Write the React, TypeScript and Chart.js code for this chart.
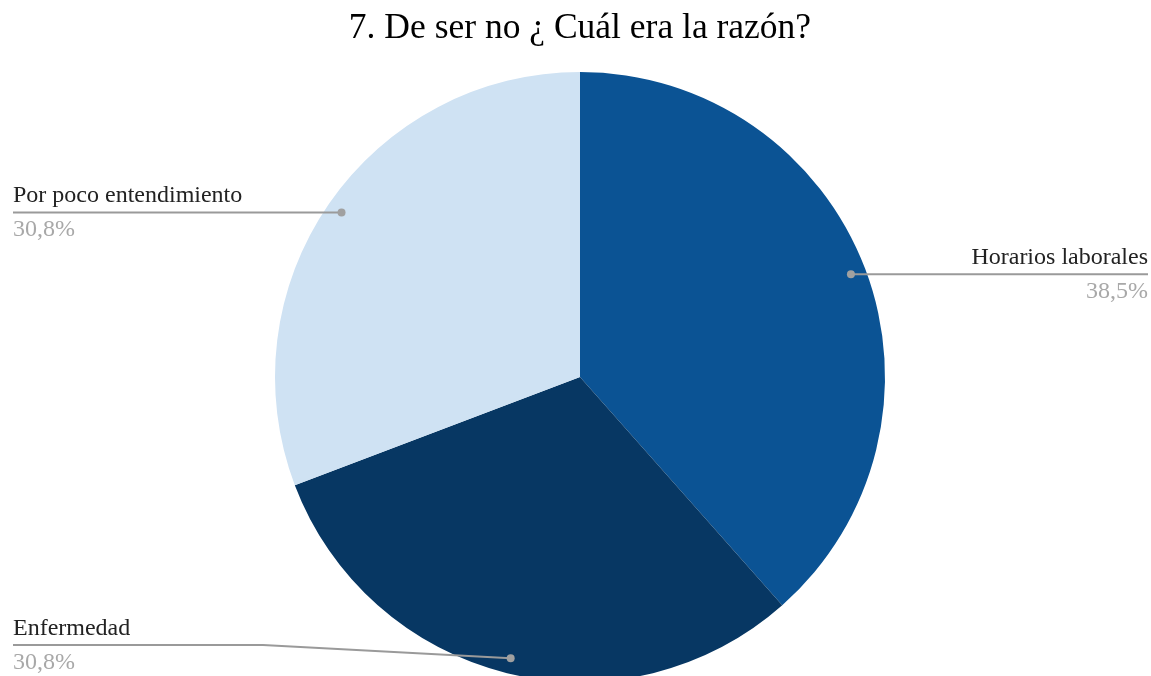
import React, { useEffect, useRef } from "react";
import { Chart, registerables } from "chart.js";

Chart.register(...registerables);

const TITLE = "7. De ser no ¿ Cuál era la razón?";
const CATEGORIES = ["Horarios laborales", "Enfermedad", "Por poco entendimiento"];
const VALUES = [5, 4, 4];
const COLORS = ["#0b5394", "#073763", "#cfe2f3"];

const SERIF = "'Liberation Serif', 'Times New Roman', serif";

const labelPlugin = {
  id: "leaderLabels",
  afterDatasetsDraw(chart: any) {
    const ctx = chart.ctx;
    const meta = chart.getDatasetMeta(0);
    const data = chart.data.datasets[0].data as number[];
    const total = data.reduce((a, b) => a + b, 0);
    const W = chart.width;
    const maxLineY = 645;
    const leftX = 13;
    const rightX = W - 3;
    const elbowX = 263;
    ctx.save();
    meta.data.forEach((arc: any, i: number) => {
      const p = arc.getProps(["x", "y", "startAngle", "endAngle", "outerRadius"], true);
      const mid = (p.startAngle + p.endAngle) / 2;
      const r = p.outerRadius * 0.95;
      const dx = p.x + Math.cos(mid) * r;
      const dy = p.y + Math.sin(mid) * r;
      const right = Math.cos(mid) >= 0;
      const lineY = Math.min(dy, maxLineY);

      ctx.strokeStyle = "#9a9a9a";
      ctx.lineWidth = 2;
      ctx.beginPath();
      if (right) {
        ctx.moveTo(dx, dy);
        ctx.lineTo(rightX, lineY);
      } else {
        ctx.moveTo(leftX, lineY);
        if (lineY !== dy) {
          ctx.lineTo(elbowX, lineY);
        }
        ctx.lineTo(dx, dy);
      }
      ctx.stroke();

      ctx.fillStyle = "#a0a0a0";
      ctx.beginPath();
      ctx.arc(dx, dy, 4, 0, Math.PI * 2);
      ctx.fill();

      const pct = ((data[i] / total) * 100).toFixed(1).replace(".", ",") + "%";
      ctx.font = `24px ${SERIF}`;
      ctx.textBaseline = "alphabetic";
      ctx.textAlign = right ? "right" : "left";
      const tx = right ? rightX : leftX;
      ctx.fillStyle = "#222222";
      ctx.fillText(chart.data.labels[i], tx, lineY - 10);
      ctx.fillStyle = "#a8a8a8";
      ctx.fillText(pct, tx, lineY + 24);
    });
    ctx.restore();
  },
};

export default function App() {
  const ref = useRef<HTMLCanvasElement | null>(null);
  useEffect(() => {
    document.body.style.margin = "0";
    const canvas = ref.current!;
    const chart = new Chart(canvas, {
      type: "pie",
      data: {
        labels: CATEGORIES,
        datasets: [
          {
            data: VALUES,
            backgroundColor: COLORS,
            borderWidth: 0,
            radius: 305,
          } as any,
        ],
      },
      options: {
        responsive: false,
        animation: false,
        devicePixelRatio: 1,
        layout: { padding: { left: 9, right: 0, top: 0, bottom: 8 } },
        plugins: {
          legend: { display: false },
          tooltip: { enabled: false },
          title: {
            display: true,
            text: TITLE,
            color: "#000000",
            font: { family: SERIF, size: 35.5, weight: "normal" as any, lineHeight: 1.2 },
            padding: { top: 7, bottom: 22.4 },
          },
        },
      },
      plugins: [labelPlugin],
    });
    return () => chart.destroy();
  }, []);
  return (
    <div style={{ width: 1151, height: 690, background: "#ffffff" }}>
      <canvas ref={ref} width={1151} height={690} style={{ display: "block" }} />
    </div>
  );
}
